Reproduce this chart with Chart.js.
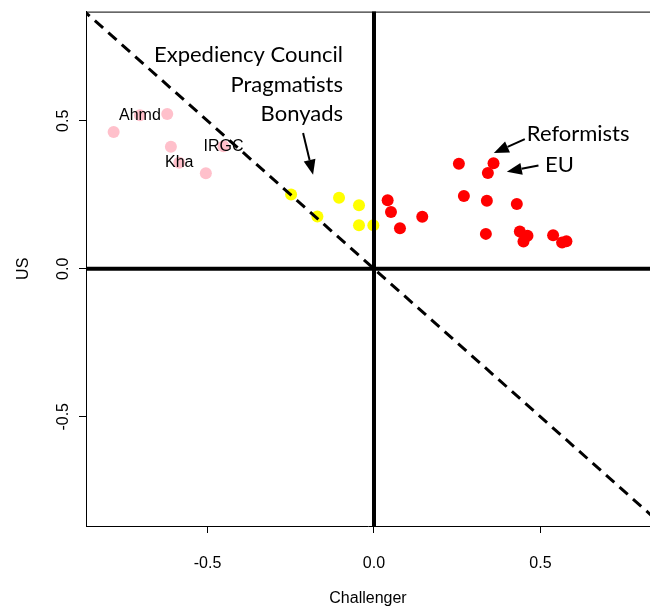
<!DOCTYPE html>
<html>
<head>
<meta charset="utf-8">
<script src="https://cdn.jsdelivr.net/npm/chart.js@4"></script>
<style>
  html, body { margin: 0; padding: 0; background: #fff; overflow: hidden; }
</style>
</head>
<body>
<canvas id="chart" width="650" height="607"></canvas>
<script>
// hardliners (pink)
const hardX = [-0.782, -0.703, -0.621, -0.610, -0.585, -0.505, -0.452];
const hardY = [0.462, 0.519, 0.523, 0.412, 0.358, 0.323, 0.414];
const hardNames = ['', 'Ahmd', '', '', 'Kha', '', 'IRGC'];
// pragmatists (yellow)
const pragX = [-0.249, -0.170, -0.105, -0.045, -0.045, -0.002];
const pragY = [0.251, 0.177, 0.240, 0.215, 0.147, 0.147];
// reformists (red)
const reformX = [0.041, 0.051, 0.078, 0.145, 0.255, 0.359, 0.342, 0.270, 0.339, 0.429, 0.336, 0.438, 0.461, 0.449, 0.538, 0.565, 0.578];
const reformY = [0.232, 0.192, 0.137, 0.176, 0.355, 0.357, 0.324, 0.246, 0.230, 0.219, 0.118, 0.126, 0.112, 0.092, 0.113, 0.089, 0.093];

const xTicks = [-0.5, 0, 0.5];
const yTicks = [-0.5, 0, 0.5];
const xRange = [-0.865, 0.829];
const yRange = [-0.869, 0.869];
const refSpan = [-1, 1];

// text notes and arrows, in data units
const notes = [
  { text: 'Expediency Council', x: -0.093, y: 0.724, align: 'right' },
  { text: 'Pragmatists', x: -0.093, y: 0.623, align: 'right' },
  { text: 'Bonyads', x: -0.093, y: 0.522, align: 'right' },
  { text: 'Reformists', x: 0.459, y: 0.455, align: 'left' },
  { text: 'EU', x: 0.514, y: 0.350, align: 'left' }
];
const arrows = [
  { from: [-0.213, 0.459], to: [-0.183, 0.318] },
  { from: [0.453, 0.438], to: [0.360, 0.391] },
  { from: [0.494, 0.349], to: [0.399, 0.328] }
];

const zip = (xs, ys) => xs.map((x, i) => ({ x: x, y: ys[i] }));

const annotate = {
  id: 'annotate',
  afterDatasetDraw(chart, args) {
    if (args.index !== 3) return;
    const ctx = chart.ctx;
    const xs = chart.scales.x, ys = chart.scales.y;
    ctx.save();
    ctx.fillStyle = '#000';
    ctx.font = '16px "Liberation Sans", Arial, sans-serif';
    ctx.textAlign = 'center';
    ctx.textBaseline = 'middle';
    hardNames.forEach((n, i) => {
      if (n) ctx.fillText(n, xs.getPixelForValue(hardX[i]), ys.getPixelForValue(hardY[i]));
    });
    ctx.restore();
  },
  afterDatasetsDraw(chart) {
    const ctx = chart.ctx;
    const xs = chart.scales.x, ys = chart.scales.y;
    const a = chart.chartArea;
    ctx.save();
    // top frame line
    ctx.strokeStyle = '#000';
    ctx.lineWidth = 1;
    ctx.beginPath();
    ctx.moveTo(a.left, a.top + 0.5);
    ctx.lineTo(a.right, a.top + 0.5);
    ctx.stroke();

    ctx.fillStyle = '#000';
    ctx.font = '22px Lato, sans-serif';
    ctx.textBaseline = 'middle';
    notes.forEach(n => {
      ctx.textAlign = n.align;
      ctx.fillText(n.text, xs.getPixelForValue(n.x), ys.getPixelForValue(n.y));
    });

    arrows.forEach(ar => {
      const x1 = xs.getPixelForValue(ar.from[0]), y1 = ys.getPixelForValue(ar.from[1]);
      const x2 = xs.getPixelForValue(ar.to[0]), y2 = ys.getPixelForValue(ar.to[1]);
      const ang = Math.atan2(y2 - y1, x2 - x1);
      const len = 15, half = 6;
      const bx = x2 - len * Math.cos(ang), by = y2 - len * Math.sin(ang);
      ctx.lineWidth = 2;
      ctx.beginPath();
      ctx.moveTo(x1, y1);
      ctx.lineTo(bx, by);
      ctx.stroke();
      ctx.beginPath();
      ctx.moveTo(x2, y2);
      ctx.lineTo(bx + half * Math.sin(ang), by - half * Math.cos(ang));
      ctx.lineTo(bx - half * Math.sin(ang), by + half * Math.cos(ang));
      ctx.closePath();
      ctx.fill();
    });
    ctx.restore();
  }
};

const lineStyle = { showLine: true, pointRadius: 0, borderColor: '#000', fill: false };

new Chart(document.getElementById('chart'), {
  type: 'scatter',
  data: {
    datasets: [
      Object.assign({ data: refSpan.map(x => ({ x: x, y: -x })), borderWidth: 3, borderDash: [11, 7] }, lineStyle),
      Object.assign({ data: refSpan.map(x => ({ x: x, y: 0 })), borderWidth: 4 }, lineStyle),
      Object.assign({ data: refSpan.map(y => ({ x: 0, y: y })), borderWidth: 4 }, lineStyle),
      { data: zip(hardX, hardY), backgroundColor: '#ffc0cb', borderWidth: 0, pointRadius: 6 },
      { data: zip(pragX, pragY), backgroundColor: '#ffff00', borderWidth: 0, pointRadius: 6 },
      { data: zip(reformX, reformY), backgroundColor: '#ff0000', borderWidth: 0, pointRadius: 6 }
    ]
  },
  options: {
    responsive: false,
    animation: false,
    events: [],
    layout: { autoPadding: false, padding: { top: 10, left: 0, right: 0, bottom: 0 } },
    plugins: { legend: { display: false }, tooltip: { enabled: false } },
    scales: {
      x: {
        type: 'linear',
        min: xRange[0],
        max: xRange[1],
        afterFit: s => { s.height = 81; s.paddingLeft = 0; s.paddingRight = 0; },
        afterBuildTicks: s => { s.ticks = xTicks.map(v => ({ value: v })); },
        border: { display: true, color: '#000', width: 1 },
        grid: { drawOnChartArea: false, drawTicks: true, tickLength: 7, color: '#000' },
        ticks: {
          color: '#000',
          padding: 21,
          maxRotation: 0,
          font: { family: '"Liberation Sans", Arial, sans-serif', size: 16 },
          callback: v => v.toFixed(1)
        },
        title: {
          display: true,
          text: 'Challenger',
          color: '#000',
          padding: { top: 0, bottom: -1 },
          font: { family: '"Liberation Sans", Arial, sans-serif', size: 16 }
        }
      },
      y: {
        type: 'linear',
        min: yRange[0],
        max: yRange[1],
        afterFit: s => { s.width = 86; s.paddingRight = 0; s.paddingLeft = 0; },
        afterBuildTicks: s => { s.ticks = yTicks.map(v => ({ value: v })); },
        border: { display: true, color: '#000', width: 1 },
        grid: { drawOnChartArea: false, drawTicks: true, tickLength: 7, color: '#000' },
        ticks: {
          color: '#000',
          padding: 2,
          minRotation: 90,
          maxRotation: 90,
          crossAlign: 'center',
          font: { family: '"Liberation Sans", Arial, sans-serif', size: 16 },
          callback: v => v.toFixed(1)
        },
        title: {
          display: true,
          text: 'US',
          color: '#000',
          padding: { top: 14, bottom: 0 },
          font: { family: '"Liberation Sans", Arial, sans-serif', size: 16 }
        }
      }
    }
  },
  plugins: [annotate]
});
</script>
</body>
</html>
